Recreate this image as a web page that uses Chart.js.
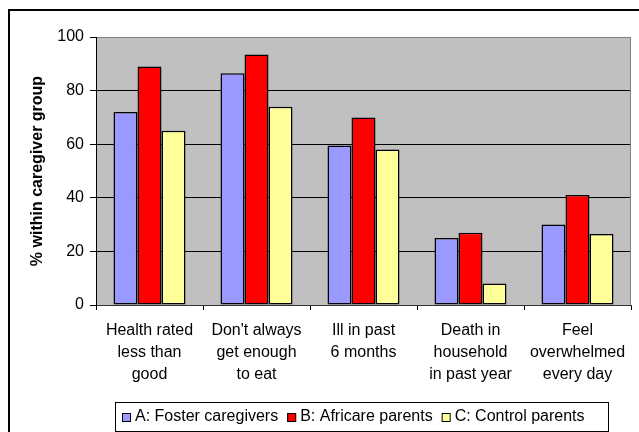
<!DOCTYPE html>
<html><head><meta charset="utf-8">
<script src="https://cdn.jsdelivr.net/npm/chart.js@4/dist/chart.umd.min.js"></script>
<style>html,body{margin:0;padding:0;background:#fff;}</style>
</head><body>
<canvas id="c" width="639" height="432" style="display:block;width:639px;height:432px"></canvas>
<script>
const categories = [["Health rated","less than","good"],["Don't always","get enough","to eat"],["Ill in past","6 months"],["Death in","household","in past year"],["Feel","overwhelmed","every day"]];
const seriesNames = ["A: Foster caregivers","B: Africare parents","C: Control parents"];
const fosterValues = [72, 86.5, 59.5, 25, 30];
const africareValues = [89, 93.5, 70, 27, 41];
const controlValues = [65, 74, 58, 8, 26.5];
const yTicks = [0, 20, 40, 60, 80, 100];
const yTitle = "% within caregiver group";
const seriesColors = ["#9999FF", "#FF0000", "#FFFF99"];

const FONT = '"Liberation Sans", Arial, sans-serif';

const framePlugin = {
  id: 'frame',
  beforeDraw(chart) {
    const ctx = chart.ctx, a = chart.chartArea;
    ctx.save();
    ctx.fillStyle = '#fff';
    ctx.fillRect(0, 0, chart.width, chart.height);
    ctx.strokeStyle = '#000';
    ctx.lineWidth = 2;
    ctx.strokeRect(9, 10, chart.width + 20, chart.height + 20);
    ctx.fillStyle = '#C0C0C0';
    ctx.fillRect(a.left, a.top, a.right - a.left, a.bottom - a.top);
    ctx.restore();
  },
  afterDatasetsDraw(chart) {
    const ctx = chart.ctx, a = chart.chartArea;
    ctx.save();
    ctx.strokeStyle = '#808080';
    ctx.lineWidth = 1;
    ctx.beginPath();
    ctx.moveTo(Math.round(a.right) - 0.5, a.top);
    ctx.lineTo(Math.round(a.right) - 0.5, a.bottom);
    ctx.stroke();
    ctx.restore();
  },
  afterDraw(chart) {
    const ctx = chart.ctx;
    const lx = 115, ly = 402, lw = 493, lh = 29;
    ctx.save();
    ctx.strokeStyle = '#000';
    ctx.lineWidth = 1;
    ctx.strokeRect(lx + 0.5, ly + 0.5, lw, lh);
    ctx.font = '16px ' + FONT;
    ctx.textBaseline = 'middle';
    ctx.textAlign = 'left';
    let x = lx + 7;
    const cy = ly + 15;
    chart.data.datasets.forEach(ds => {
      ctx.fillStyle = ds.backgroundColor;
      ctx.fillRect(x, cy - 4, 9, 9);
      ctx.strokeStyle = '#000';
      ctx.strokeRect(x + 0.5, cy - 3.5, 8, 8);
      ctx.fillStyle = '#000';
      ctx.fillText(ds.label, x + 13, cy);
      x += 13 + ctx.measureText(ds.label).width + 9;
    });
    ctx.restore();
  }
};

new Chart(document.getElementById('c'), {
  type: 'bar',
  data: {
    labels: categories,
    datasets: [
      { label: seriesNames[0], data: fosterValues, backgroundColor: seriesColors[0] },
      { label: seriesNames[1], data: africareValues, backgroundColor: seriesColors[1] },
      { label: seriesNames[2], data: controlValues, backgroundColor: seriesColors[2] }
    ]
  },
  options: {
    responsive: false,
    devicePixelRatio: 1,
    animation: false,
    layout: { padding: { left: 0, top: 37, right: 8, bottom: 0 } },
    datasets: {
      bar: {
        borderColor: '#000',
        borderWidth: 1.5,
        borderSkipped: false,
        categoryPercentage: 0.673,
        barPercentage: 1
      }
    },
    plugins: {
      legend: { display: false },
      tooltip: { enabled: false }
    },
    scales: {
      x: {
        offset: true,
        afterFit(scale) { scale.height = 127; },
        grid: { offset: true, drawOnChartArea: false, drawTicks: true, tickLength: 5, color: '#000', tickColor: '#000' },
        border: { color: '#333', width: 1 },
        ticks: {
          color: '#000', maxRotation: 0, minRotation: 0, autoSkip: false, padding: 10,
          font: { family: FONT, size: 16, lineHeight: 1.375 }
        }
      },
      y: {
        min: 0, max: 100,
        afterFit(scale) { scale.width = 96; },
        afterBuildTicks(scale) { scale.ticks = yTicks.map(v => ({ value: v })); },
        grid: {
          color: c => (c.tick && c.tick.value === 100) ? '#808080' : '#000',
          tickColor: '#000', lineWidth: 1, tickLength: 6, drawTicks: true
        },
        border: { color: '#000', width: 1 },
        ticks: { color: '#000', padding: 6, font: { family: FONT, size: 16 } },
        title: {
          display: true, text: yTitle, color: '#000',
          font: { family: FONT, size: 16, weight: 'bold' },
          padding: { top: 28, bottom: 0 }
        }
      }
    }
  },
  plugins: [framePlugin]
});
</script>
</body></html>
